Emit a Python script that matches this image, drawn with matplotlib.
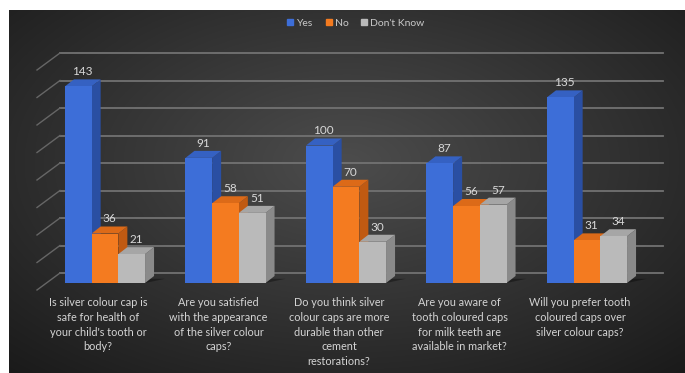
import numpy as np
import matplotlib
matplotlib.use("Agg")
import matplotlib.pyplot as plt
from matplotlib.patches import Polygon, Rectangle
from matplotlib.lines import Line2D

questions = [
    "Is silver colour cap is\nsafe for health of\nyour child's tooth or\nbody?",
    "Are you satisfied\nwith the appearance\nof the silver colour\ncaps?",
    "Do you think silver\ncolour caps are more\ndurable than other\ncement\nrestorations?",
    "Are you aware of\ntooth coloured caps\nfor milk teeth are\navailable in market?",
    "Will you prefer tooth\ncoloured caps over\nsilver colour caps?",
]
series = ["Yes", "No", "Don't Know"]
yes = [143, 91, 100, 87, 135]
no = [36, 58, 70, 56, 31]
dont_know = [21, 51, 30, 57, 34]
grid_ticks = list(range(0, 161, 20))

# (front, side, top) shades per series
shades = [
    ("#3d6ed8", "#2a4fa3", "#3561c2"),
    ("#f47b20", "#c05a12", "#dc6a18"),
    ("#bababa", "#8a8a8a", "#a6a6a6"),
]

W, H = 685, 373
PX = 120.5     # pixels per category step
PY = 1.375     # pixels per unit of count
X_ORIGIN, Y_ORIGIN = 105, 283   # pixel position of category 0 / value 0 (front face)
BW = 26.7 / PX
DX, DY = 9 / PX, 7 / PY         # bar depth offset
WALL = 10 / PY                  # back wall sits above the bar front

plt.rcParams["font.family"] = ["Lato", "DejaVu Sans"]
fig = plt.figure(figsize=(W / 100, H / 100), dpi=100)
fig.patch.set_facecolor("white")

# dark radial backdrop
bg = fig.add_axes([9 / W, 0, 1 - 9 / W, 1 - 10 / H])
yy, xx = np.mgrid[0:1:300j, 0:1:500j]
r = np.sqrt(((xx - 0.5) / 0.75) ** 2 + ((yy - 0.42) / 0.8) ** 2)
shade = np.clip(0.30 - 0.2 * r, 0.1, 0.31)
bg.imshow(np.dstack([shade] * 3), aspect="auto", extent=[0, 1, 1, 0])
bg.set_axis_off()

ax = fig.add_axes([0, 0, 1, 1])
ax.set_xlim(-X_ORIGIN / PX, (W - X_ORIGIN) / PX)
ax.set_ylim((Y_ORIGIN - H) / PY, Y_ORIGIN / PY)
ax.set_axis_off()
ax.patch.set_alpha(0)

# back wall gridlines + left wall strokes
gx0, gx1 = (60 - X_ORIGIN) / PX, (663 - X_ORIGIN) / PX
for v in grid_ticks:
    y = v + WALL
    ax.plot([gx0, gx1], [y, y], color="#727272", lw=1.3, zorder=1)
    ax.plot([gx0, gx0 - 23 / PX], [y, y - 17 / PY], color="#666666", lw=1.0, zorder=1)

values = [yes, no, dont_know]
z = 2
for i in range(len(questions)):
    # soft floor shadow behind each cluster
    x_left = i - 1.5 * BW
    x_right = i + 1.5 * BW
    ax.add_patch(Polygon([(x_left, 0), (x_right, 0), (x_right + 2.2 * DX, DY * 0.6),
                          (x_left + 2.2 * DX, DY * 0.6)],
                         closed=True, color="black", alpha=0.35, lw=0, zorder=z))
    z += 1
    for s, vals in enumerate(values):
        v = vals[i]
        x = i + (s - 1) * BW - BW / 2
        front, side, top = shades[s]
        ax.add_patch(Polygon([(x + BW, 0), (x + BW + DX, DY), (x + BW + DX, v + DY), (x + BW, v)],
                             closed=True, color=side, lw=0, zorder=z))
        ax.add_patch(Polygon([(x, v), (x + BW, v), (x + BW + DX, v + DY), (x + DX, v + DY)],
                             closed=True, color=top, lw=0, zorder=z))
        ax.add_patch(Rectangle((x, 0), BW, v, color=front, lw=0, zorder=z))
        ax.text(x + BW / 2 + DX / 2, v + DY + 1.5, str(v), ha="center", va="bottom",
                fontsize=8.5, color="#d8d8d8", zorder=z)
        z += 1

for i, q in enumerate(questions):
    ax.text(i - 7 / PX, (Y_ORIGIN - 297) / PY, q, ha="center", va="top",
            fontsize=7.8, color="#d4d4d4", linespacing=1.42)

handles = [Line2D([], [], marker="s", ls="none", markersize=5, color=c[0]) for c in shades]
leg = fig.legend(handles, series, loc="upper center", bbox_to_anchor=(355 / W, 1 - 9 / H),
                 ncol=3, frameon=False, fontsize=7.5, handletextpad=0.1, columnspacing=1.0,
                 handlelength=1.0)
for t in leg.get_texts():
    t.set_color("#c8c8c8")

fig.savefig("out.png", dpi=100)
